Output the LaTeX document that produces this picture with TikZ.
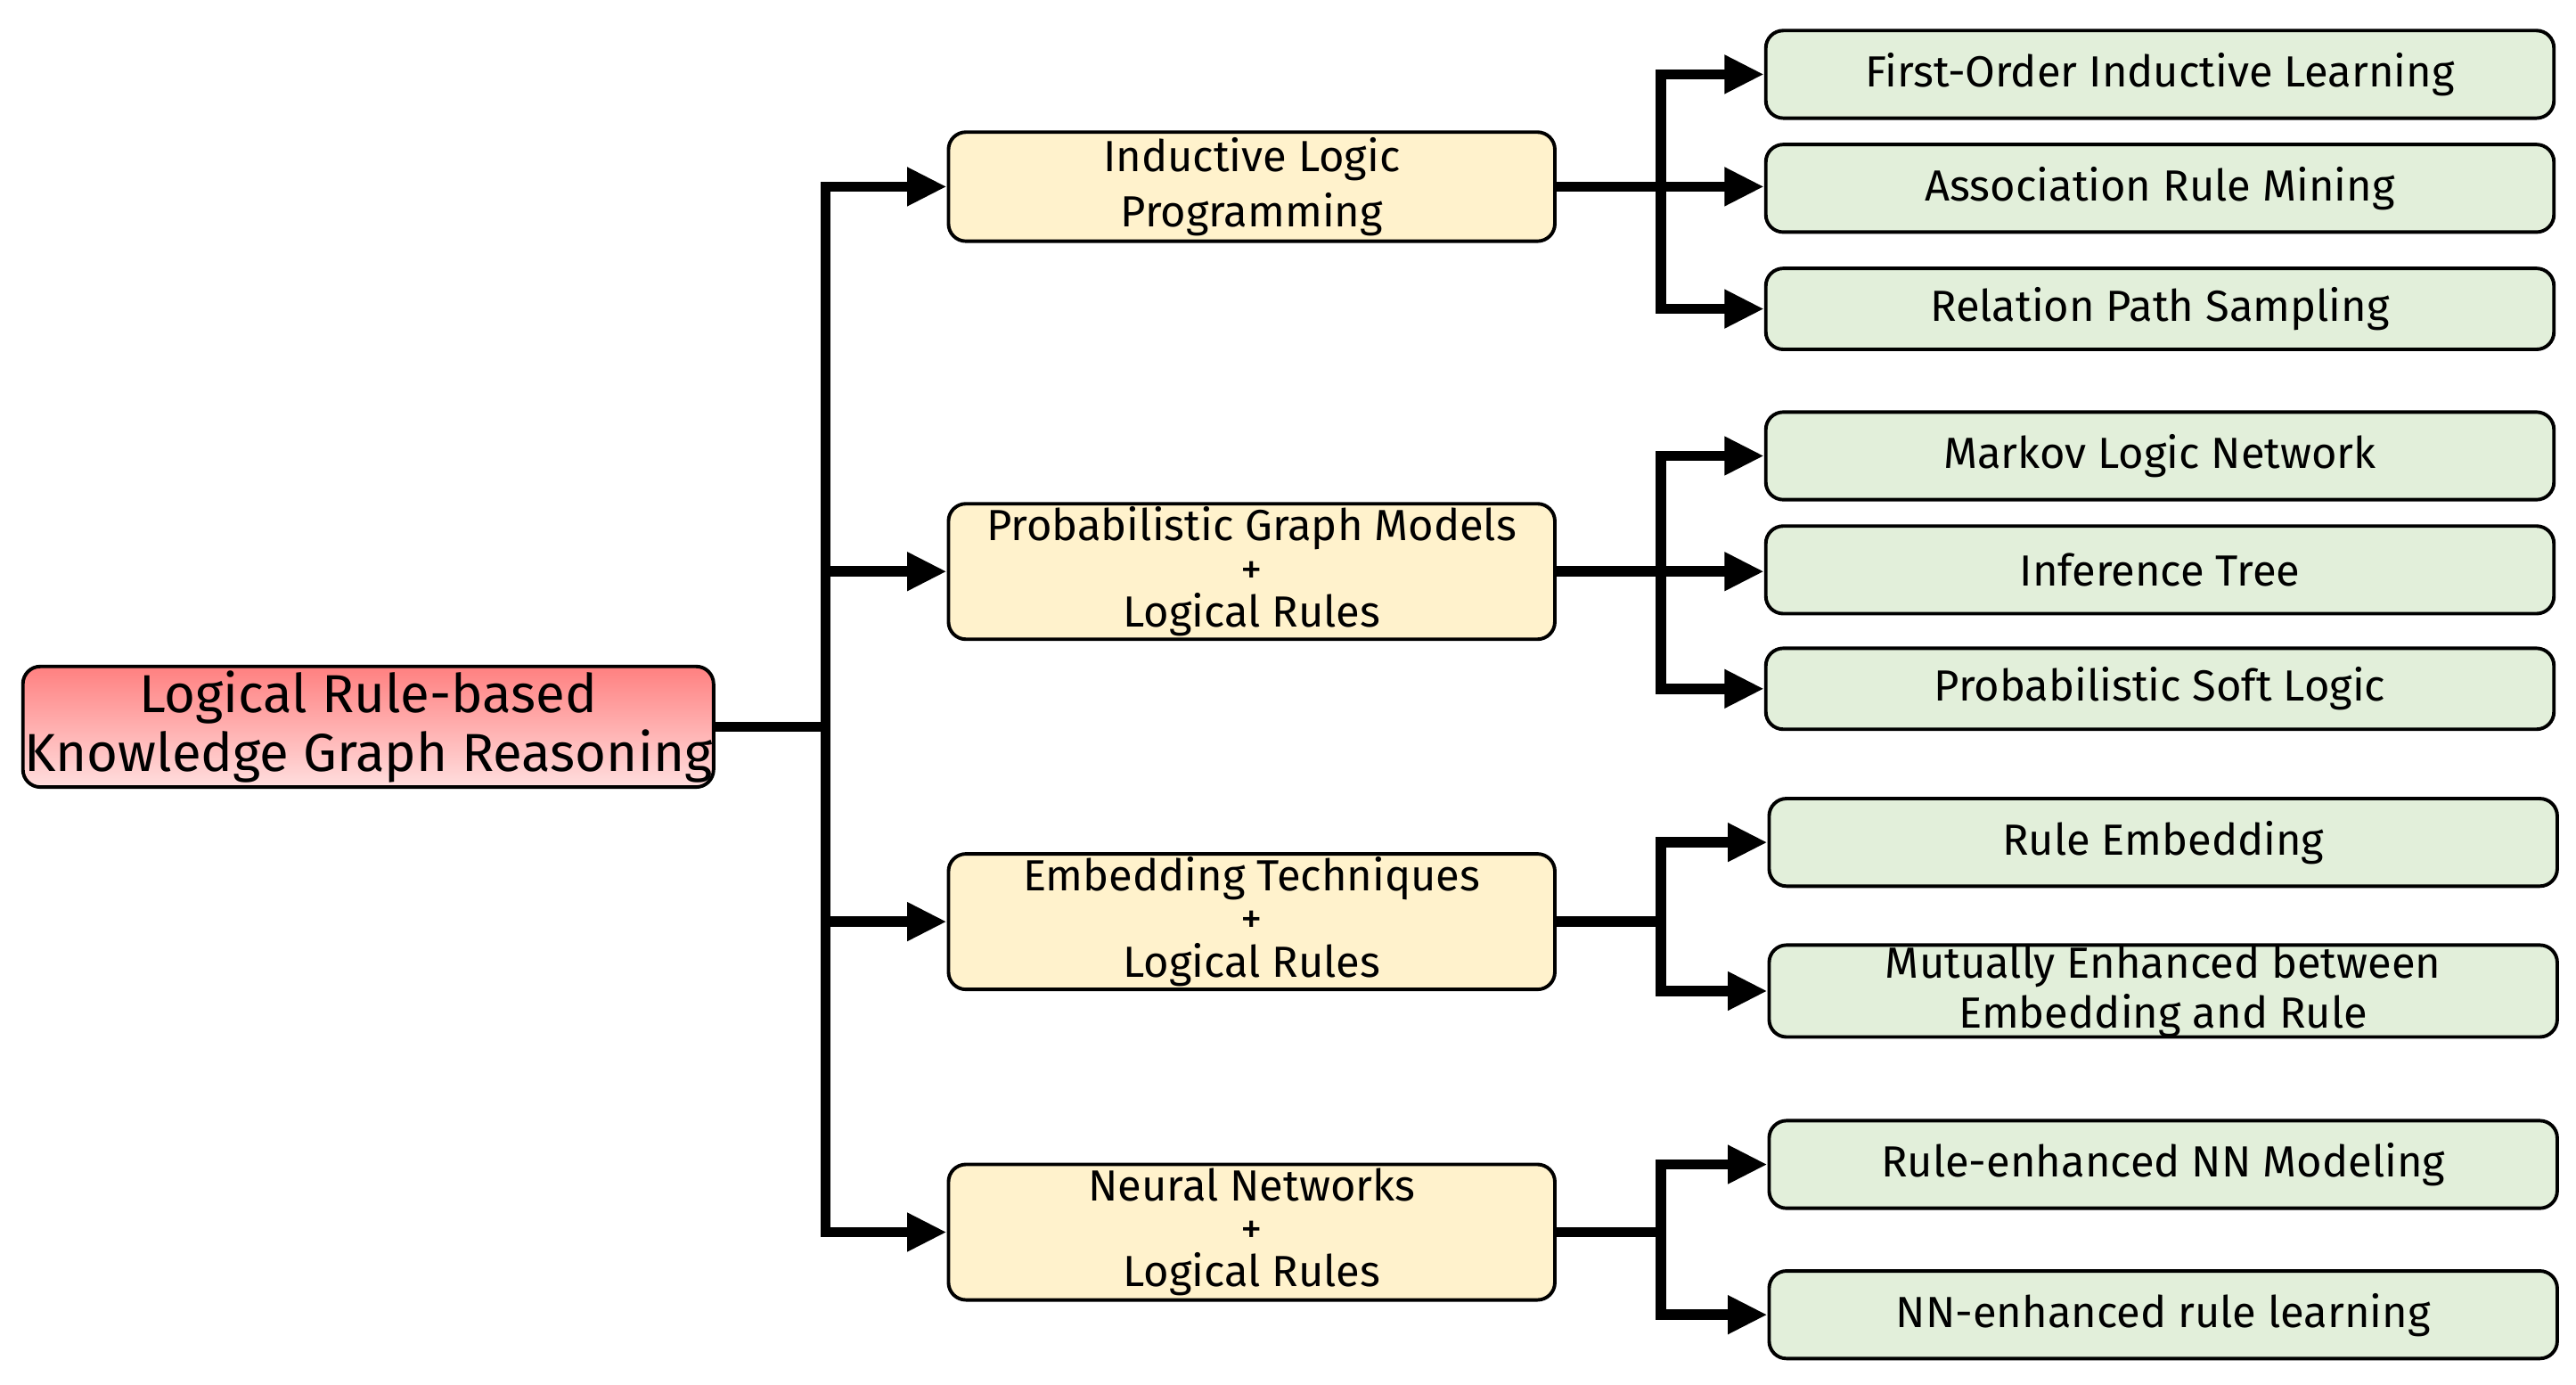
\documentclass[tikz,border=0pt]{standalone}
\usepackage{fontspec}
\setmainfont{Fira Sans}
\usetikzlibrary{arrows.meta,shadings}
\definecolor{midfill}{RGB}{255,242,204}
\definecolor{leaffill}{RGB}{226,239,218}
\begin{document}
\begin{tikzpicture}[x=0.01cm,y=-0.01cm,
    box/.style={draw,rounded corners=3pt,line width=0.6pt,align=center,inner sep=0pt},
    root/.style={box,top color={rgb,255:red,255;green,128;blue,128},bottom color={rgb,255:red,255;green,222;blue,222},
        minimum width=4.18cm,minimum height=0.73cm,font=\fontsize{9.2}{10}\selectfont},
    mid/.style={box,fill=midfill,minimum width=3.67cm,minimum height=0.82cm,font=\fontsize{7.5}{7.4}\selectfont},
    leaf/.style={box,fill=leaffill,minimum width=4.77cm,minimum height=0.53cm,font=\fontsize{7.5}{8.6}\selectfont},
    link/.style={line width=1.8pt},
    arr/.style={link,-{Triangle[length=0.24cm,width=0.22cm]}}]
\useasboundingbox (0,0) rectangle (1560,838);
% root
\node[root] (kgr) at (223,440) {Logical Rule-based\\Knowledge Graph Reasoning};
% second level
\node[mid,minimum height=0.66cm] (ilp) at (758,113) {Inductive Logic\\[1pt]Programming};
\node[mid] (pgm) at (758,346) {Probabilistic Graph Models\\+\\Logical Rules};
\node[mid] (emb) at (758,558) {Embedding Techniques\\+\\Logical Rules};
\node[mid] (nn) at (758,746) {Neural Networks\\+\\Logical Rules};
% leaves
\node[leaf] (foil) at (1308,45) {First-Order Inductive Learning};
\node[leaf] (arm) at (1308,114) {Association Rule Mining};
\node[leaf,minimum height=0.49cm] (rps) at (1308,187) {Relation Path Sampling};
\node[leaf] (mln) at (1308,276) {Markov Logic Network};
\node[leaf] (itr) at (1308,345) {Inference Tree};
\node[leaf,minimum height=0.49cm] (psl) at (1308,417) {Probabilistic Soft Logic};
\node[leaf] (remb) at (1310,510) {Rule Embedding};
\node[leaf] (meer) at (1310,600) {Mutually Enhanced between\\Embedding and Rule};
\node[leaf] (rnn) at (1310,705) {Rule-enhanced NN Modeling};
\node[leaf] (nnr) at (1310,796) {NN-enhanced rule learning};
% connectors
\coordinate (trunk) at (500,440);
\draw[link] (kgr.east) -- (trunk);
\foreach \m in {ilp,pgm,emb,nn}
  \draw[arr] (trunk) |- (\m.west);
\foreach \m/\a/\b/\c in {ilp/foil/arm/rps,pgm/mln/itr/psl}{
  \draw[arr] (\m.east) -- ++(63,0) |- (\a.west);
  \draw[arr] (\m.east) -- (\m.east -| \b.west);
  \draw[arr] (\m.east) -- ++(63,0) |- (\c.west);
}
\foreach \m/\a/\b in {emb/remb/meer,nn/rnn/nnr}{
  \draw[arr] (\m.east) -- ++(63,0) |- (\a.west);
  \draw[arr] (\m.east) -- ++(63,0) |- (\b.west);
}
\end{tikzpicture}
\end{document}
